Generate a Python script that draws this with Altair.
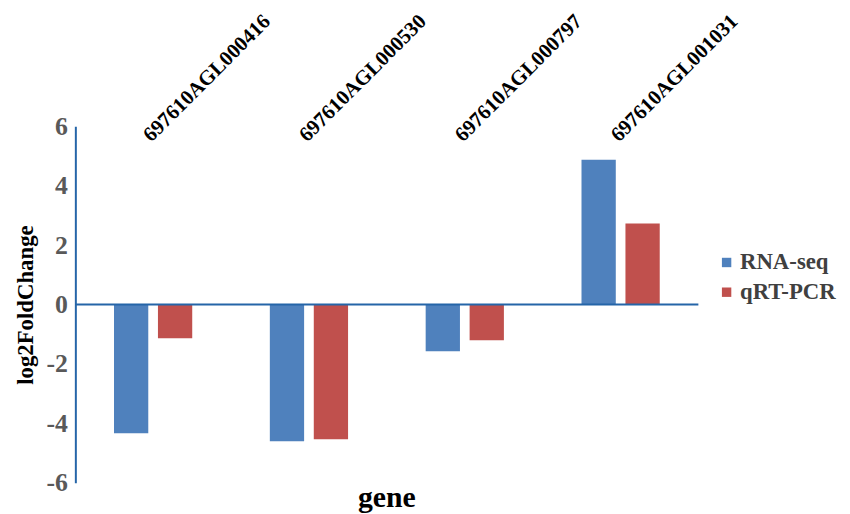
import altair as alt
import pandas as pd

genes = ["697610AGL000416", "697610AGL000530", "697610AGL000797", "697610AGL001031"]
rna_seq = [-4.33, -4.6, -1.57, 4.87]
qrt_pcr = [-1.13, -4.53, -1.2, 2.73]
series = ["RNA-seq", "qRT-PCR"]
y_ticks = [-6, -4, -2, 0, 2, 4, 6]

rows = []
for g, a, b in zip(genes, rna_seq, qrt_pcr):
    rows.append({"gene": g, "method": series[0], "value": a})
    rows.append({"gene": g, "method": series[1], "value": b})
df = pd.DataFrame(rows)

FONT = "Liberation Serif"
AXIS_BLUE = "#2565a8"

bars = alt.Chart(df).mark_bar().encode(
    x=alt.X("gene:N", sort=genes,
            scale=alt.Scale(paddingInner=0.498, paddingOuter=0.248),
            axis=alt.Axis(orient="top", title=None, domain=False, ticks=False,
                          labelAngle=315, labelAlign="left", labelBaseline="middle",
                          labelPadding=-12, labelOffset=-6, labelFont=FONT, labelFontSize=21,
                          labelFontWeight="bold", labelColor="#000000")),
    xOffset=alt.XOffset("method:N", sort=series,
                        scale=alt.Scale(paddingInner=0.22, paddingOuter=0)),
    y=alt.Y("value:Q", scale=alt.Scale(domain=[-6, 6], nice=False),
            axis=alt.Axis(values=y_ticks, labelExpr="'' + datum.value", grid=False, ticks=False,
                          domainColor=AXIS_BLUE, domainWidth=2,
                          labelFont=FONT, labelFontSize=26, labelFontWeight="bold",
                          labelColor="#595959", labelPadding=8,
                          title="log2FoldChange", titleFont=FONT, titleFontSize=23,
                          titleFontWeight="bold", titleColor="#000000",
                          titlePadding=9)),
    color=alt.Color("method:N", sort=series,
                    scale=alt.Scale(domain=series, range=["#4f81bd", "#c0504d"]),
                    legend=alt.Legend(title=None, orient="none", legendX=646, legendY=126,
                                      symbolType="square", symbolSize=90,
                                      symbolStrokeWidth=0, labelFont=FONT,
                                      labelFontSize=23, labelFontWeight="bold",
                                      labelColor="#404040", rowPadding=6, labelOffset=2)),
)

zero = alt.Chart(pd.DataFrame({"z": [0]})).mark_rule(color=AXIS_BLUE, strokeWidth=2).encode(
    y=alt.Y("z:Q")
)

chart = alt.layer(bars, zero).properties(
    width=629, height=360, background="#ffffff",
    autosize=alt.AutoSizeParams(type="none"),
    padding={"left": 68, "top": 117, "right": 145, "bottom": 28},
    title=alt.TitleParams(text="gene", orient="bottom", font=FONT, fontSize=30,
                          fontWeight="bold", color="#000000", offset=-13),
).configure_view(strokeWidth=0, stroke="transparent")

chart.save("out.html", embed_options={"renderer": "svg", "actions": False})
